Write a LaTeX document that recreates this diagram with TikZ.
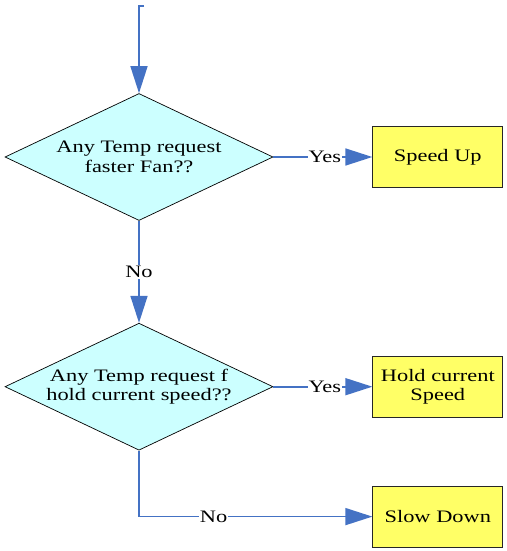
\documentclass[tikz,border=0pt]{standalone}
\usepackage{fontspec}
\setmainfont[FakeStretch=1.28]{Liberation Serif}
\usepackage{xcolor}
\usepackage{tikz}
\usetikzlibrary{shapes,arrows.meta,positioning,calc}

\definecolor{flowblue}{HTML}{4472C4}
\definecolor{decfill}{HTML}{CCFFFF}
\definecolor{actfill}{HTML}{FFFF66}
\newcommand{\chartfont}{\fontsize{17.5}{19.5}\selectfont}

\begin{document}
\begin{tikzpicture}[
    x=1pt, y=1pt,
    decision/.style={diamond, draw=black, line width=0.7pt, fill=decfill, aspect=2.1,
                     inner sep=0pt, minimum width=268pt, minimum height=127pt,
                     align=center, font=\chartfont},
    action/.style={rectangle, draw=black!85, line width=0.9pt, fill=actfill,
                   minimum width=130pt, minimum height=61pt, inner sep=2pt,
                   align=center, font=\chartfont},
    arrow/.style={-{Triangle[length=27pt,width=17pt]}, draw=flowblue, line width=1.6pt},
    answer/.style={fill=white, inner sep=1pt, font=\chartfont}
]
\useasboundingbox (0,0) rectangle (506,-551);

\node[decision] (faster) at (139,-157) {Any Temp request\\faster Fan??};
\node[decision, below=102pt of faster] (hold) {Any Temp request f\\hold current speed??};

\node[action, right=99pt of faster] (speedup) {Speed Up};
\node[action, right=99pt of hold] (holdspeed) {Hold current\\Speed};
\node[action, below=68pt of holdspeed] (slowdown) {Slow Down};

\coordinate (entry) at (139,-6);
\coordinate (entrytick) at (144,-6);

\draw[arrow] (entrytick) -- (entry) -- (faster);
\draw[arrow] (faster) -- node[answer, pos=0.52] {Yes} (speedup);
\draw[arrow] (faster) -- node[answer] {No} (hold);
\draw[arrow] (hold) -- node[answer, pos=0.52] {Yes} (holdspeed);
\draw[arrow] (hold) |- node[answer, pos=0.66] {No} (slowdown);
\end{tikzpicture}
\end{document}
